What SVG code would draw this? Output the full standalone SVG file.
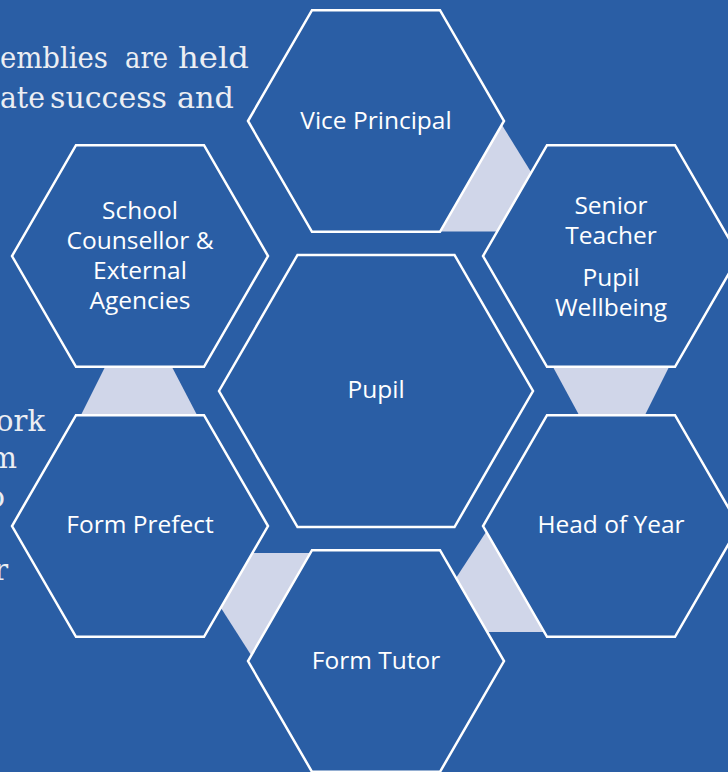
<svg xmlns="http://www.w3.org/2000/svg" width="728" height="772" viewBox="0 0 728 772">
<style>
.bg{fill:#2A5EA5}
.hex{fill:#2A5EA5;stroke:#FFFFFF;stroke-width:2.5;stroke-linejoin:miter}
.link{fill:#D0D6E9;stroke:none}
.lbl{font-family:"Open Sans","Liberation Sans",sans-serif;font-size:24.5px;fill:#FFFFFF;text-anchor:middle}
.body{font-family:"DejaVu Serif","Liberation Serif",serif;font-size:29px;fill:#ECEEF3}
</style>
<rect class="bg" x="0" y="0" width="728" height="772"/>
<g id="background-text">
<text class="body" x="0" y="68" textLength="108" lengthAdjust="spacingAndGlyphs">emblies</text>
<text class="body" x="125" y="68" textLength="43" lengthAdjust="spacingAndGlyphs">are</text>
<text class="body" x="178" y="68" textLength="71" lengthAdjust="spacingAndGlyphs">held</text>
<text class="body" x="0" y="108" textLength="45" lengthAdjust="spacingAndGlyphs">ate</text>
<text class="body" x="50" y="108" textLength="117" lengthAdjust="spacingAndGlyphs">success</text>
<text class="body" x="177" y="108" textLength="57" lengthAdjust="spacingAndGlyphs">and</text>
<text class="body" x="45" y="431" text-anchor="end">ork</text>
<text class="body" x="17" y="468" text-anchor="end">m</text>
<text class="body" x="5" y="507" text-anchor="end">o</text>
<text class="body" x="8" y="580" text-anchor="end">r</text>
</g>
<g id="connectors">
<polygon class="link" points="502,125 531,172 497,231.5 440,231.5"/>
<polygon class="link" points="553,367 669,367 645,415 579,415"/>
<polygon class="link" points="486,532 544,632 487,632 456,578"/>
<polygon class="link" points="252,553 310,553 251,655 221,608"/>
<polygon class="link" points="105,367 172,367 197,415 81,415"/>
</g>
<g id="node-vice-principal">
<polygon class="hex" points="248,121 312,10.15 440,10.15 504,121 440,231.85 312,231.85"/>
<text class="lbl" x="376" y="128.5">Vice Principal</text>
</g>
<g id="node-senior-teacher">
<polygon class="hex" points="483,256 547,145.15 675,145.15 739,256 675,366.85 547,366.85"/>
<text class="lbl" x="611" y="213.5">Senior</text>
<text class="lbl" x="611" y="243.5">Teacher</text>
<text class="lbl" x="611" y="286">Pupil</text>
<text class="lbl" x="611" y="315.5">Wellbeing</text>
</g>
<g id="node-head-of-year">
<polygon class="hex" points="483,526 547,415.15 675,415.15 739,526 675,636.85 547,636.85"/>
<text class="lbl" x="611" y="532.5">Head of Year</text>
</g>
<g id="node-form-tutor">
<polygon class="hex" points="248,661 312,550.15 440,550.15 504,661 440,771.85 312,771.85"/>
<text class="lbl" x="376" y="668.5">Form Tutor</text>
</g>
<g id="node-form-prefect">
<polygon class="hex" points="12,526 76,415.15 204,415.15 268,526 204,636.85 76,636.85"/>
<text class="lbl" x="140" y="532.5">Form Prefect</text>
</g>
<g id="node-school-counsellor">
<polygon class="hex" points="12,256 76,145.15 204,145.15 268,256 204,366.85 76,366.85"/>
<text class="lbl" x="140" y="219">School</text>
<text class="lbl" x="140" y="249">Counsellor &amp;</text>
<text class="lbl" x="140" y="279">External</text>
<text class="lbl" x="140" y="309">Agencies</text>
</g>
<g id="node-pupil">
<polygon class="hex" points="219,391 297.5,255 454.5,255 533,391 454.5,527 297.5,527"/>
<text class="lbl" x="376" y="398">Pupil</text>
</g>
</svg>
